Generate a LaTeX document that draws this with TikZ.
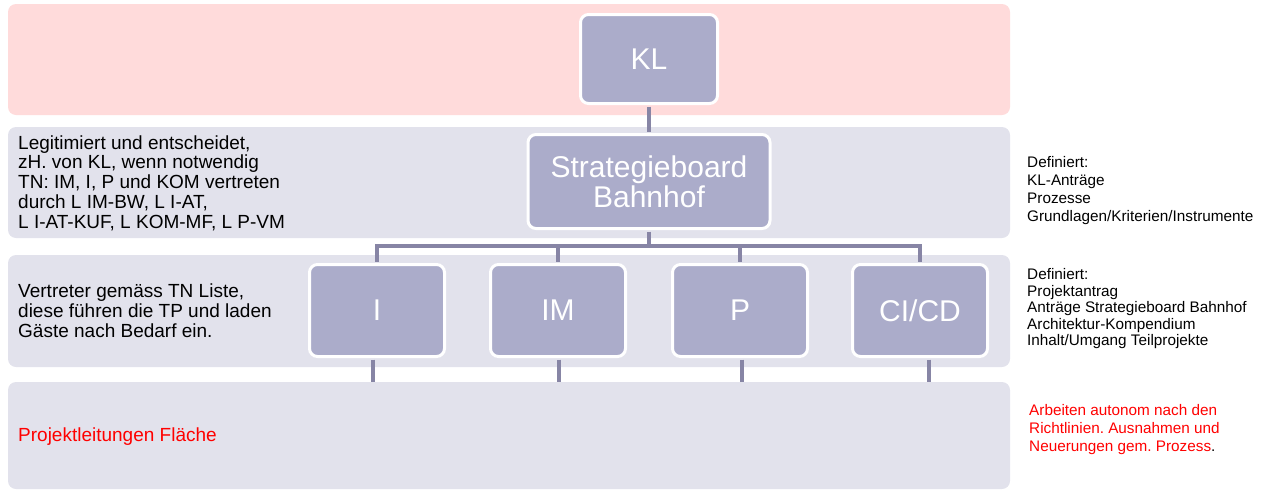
\documentclass[tikz,border=0pt]{standalone}
\usepackage{fontspec}
\setmainfont{Liberation Sans}
\frenchspacing
\definecolor{bandpink}{HTML}{FFDBDB}
\definecolor{bandgray}{HTML}{E2E2EC}
\definecolor{boxfill}{HTML}{ABACCA}
\definecolor{linkcol}{HTML}{8785A5}
\definecolor{notered}{HTML}{FF0000}
\tikzset{
  band/.style={rounded corners=8pt, fill=bandgray},
  unit/.style={draw=white, line width=3pt, fill=boxfill, rounded corners=8pt,
    text=white, font=\fontsize{30}{30}\selectfont, inner sep=0pt, align=center},
  link/.style={draw=linkcol, line width=3.5pt},
  note/.style={anchor=west, align=left, inner sep=0pt, font=\fontsize{19}{19.8}\selectfont},
  side/.style={anchor=west, align=left, inner sep=0pt},
}
\begin{document}
\begin{tikzpicture}[x=1pt,y=-1pt]
\useasboundingbox (0,0) rectangle (1266,490);

% horizontal bands
\fill[band, fill=bandpink] (8,4) rectangle (1010,115);
\fill[band] (8,127) rectangle (1010,238);
\fill[band] (8,255) rectangle (1010,367);
\fill[band] (8,382) rectangle (1010,489);

% organisation units
\node[unit, minimum width=137pt, minimum height=89pt] (kl) at (649,59) {KL};
\node[unit, minimum width=242pt, minimum height=94pt] (sb) at (649,181.5) {Strategieboard\\Bahnhof};
\node[unit, minimum width=135pt, minimum height=92pt] (i)  at (377,310.5) {I};
\node[unit, minimum width=135pt, minimum height=92pt] (im) at (558,310.5) {IM};
\node[unit, minimum width=135pt, minimum height=92pt] (p)  at (740,310.5) {P};
\node[unit, minimum width=135pt, minimum height=92pt] (ci) at (920,310.5) {CI/CD};

% connectors
\coordinate (bus) at (649,246);
\draw[link] ([yshift=-1.5pt]kl.south) -- ([yshift=1.5pt]sb.north);
\draw[link] ([yshift=-1.5pt]sb.south) -- (bus);
\draw[link] (bus) -| ([yshift=1.5pt]i.north);
\draw[link] (bus) -| ([yshift=1.5pt]im.north);
\draw[link] (bus) -| ([yshift=1.5pt]p.north);
\draw[link] (bus) -| ([yshift=1.5pt]ci.north);

% stubs down to the project level
\coordinate (di) at (373,382);
\coordinate (dim) at (559,382);
\coordinate (dp) at (742,382);
\coordinate (dci) at (929,382);
\draw[link] ([xshift=-4pt,yshift=-1.5pt]i.south) -- (di);
\draw[link] ([xshift=1pt,yshift=-1.5pt]im.south) -- (dim);
\draw[link] ([xshift=2pt,yshift=-1.5pt]p.south) -- (dp);
\draw[link] ([xshift=9pt,yshift=-1.5pt]ci.south) -- (dci);

% band descriptions
\node[note] (t2) at (18,183) {Legitimiert und entscheidet,\\zH. von KL, wenn notwendig\\TN: IM, I, P und KOM vertreten\\durch L IM-BW, L I-AT,\\L I-AT-KUF, L KOM-MF, L P-VM};
\node[note] (t3) at (18,311) {Vertreter gemäss TN Liste,\\diese führen die TP und laden\\Gäste nach Bedarf ein.};
\node[note, text=notered] (t4) at (18,437) {Projektleitungen Fläche};

% side notes
\node[side, font=\fontsize{15.3}{18}\selectfont] (s2) at (1027,191) {Definiert:\\KL-Anträge\\Prozesse\\Grundlagen/Kriterien/Instrumente};
\node[side, font=\fontsize{15.3}{16.5}\selectfont] (s3) at (1027,309) {Definiert:\\Projektantrag\\Anträge Strategieboard Bahnhof\\Architektur-Kompendium\\Inhalt/Umgang Teilprojekte};
\node[side, font=\fontsize{15.3}{18}\selectfont, text=notered] (s4) at (1029,430) {Arbeiten autonom nach den\\Richtlinien. Ausnahmen und\\Neuerungen gem. Prozess\textcolor{black}{.}};
\end{tikzpicture}
\end{document}
